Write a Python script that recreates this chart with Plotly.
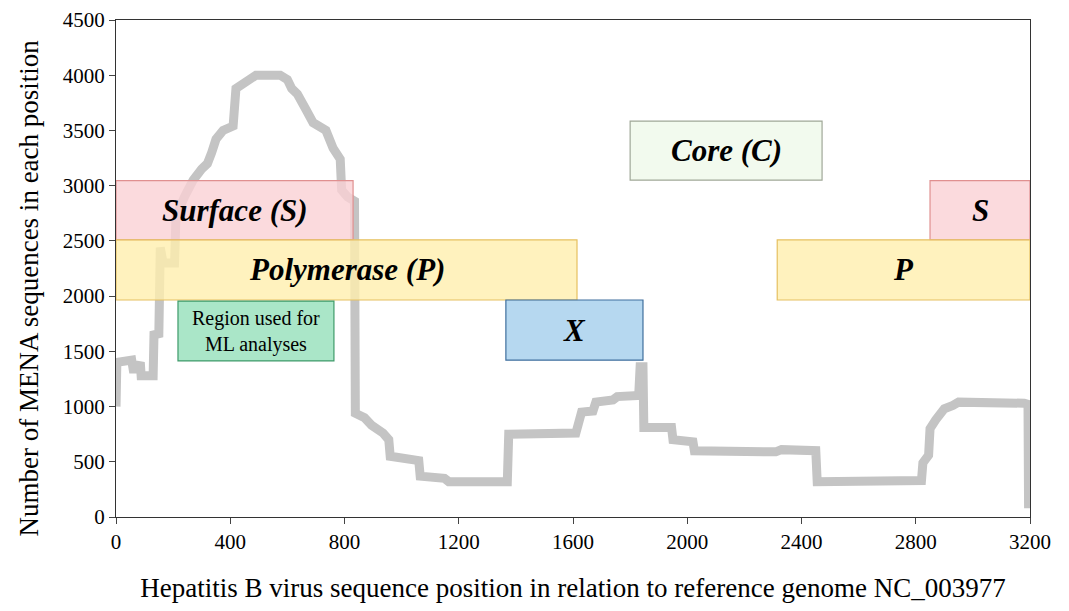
import plotly.graph_objects as go

# coverage of MENA sequences along the HBV genome
x_pos = [0, 3, 55, 60, 75, 80, 85, 88, 130, 133, 150, 155, 165, 205, 210, 240, 270, 300, 320, 335,
         350, 375, 410, 420, 440, 460, 490, 575, 600, 615, 635, 665, 690, 735, 760, 785, 790, 810,
         835, 838, 870, 895, 935, 955, 960, 1060, 1065, 1150, 1165, 1370, 1375, 1610, 1620, 1630,
         1670, 1680, 1740, 1755, 1830, 1835, 1845, 1848, 1945, 1950, 2020, 2025, 2310, 2330, 2450,
         2455, 2820, 2825, 2845, 2850, 2870, 2900, 2930, 2950, 3180, 3193, 3195]
counts = [1000, 1400, 1420, 1340, 1340, 1400, 1400, 1280, 1280, 1650, 1660, 2440, 2300, 2300, 2720,
          2900, 3050, 3150, 3200, 3300, 3420, 3500, 3540, 3880, 3920, 3950, 4000, 4000, 3960, 3880,
          3830, 3690, 3570, 3500, 3340, 3240, 2960, 2900, 2860, 940, 900, 830, 760, 700, 550, 510,
          370, 350, 320, 320, 750, 760, 880, 950, 960, 1040, 1060, 1090, 1100, 1360, 1360, 810, 810,
          700, 680, 600, 590, 610, 600, 320, 330, 490, 560, 800, 880, 980, 1010, 1040, 1030, 1020, 80]

# gene / region boxes: label, start, end, low, high
region_labels = ["Surface (S)", "S", "Polymerase (P)", "P", "Core (C)", "X", "Region used for<br>ML analyses"]
region_start = [0, 2850, 0, 2315, 1800, 1365, 217]
region_end = [830, 3200, 1614, 3200, 2472, 1845, 763]
region_low = [2510, 2510, 1965, 1965, 3050, 1420, 1413]
region_high = [3045, 3045, 2510, 2510, 3585, 1965, 1955]

fills = ["rgba(250,209,212,0.8)", "rgba(250,209,212,0.8)", "rgba(255,239,174,0.8)",
         "rgba(255,239,174,0.8)", "rgba(239,249,234,0.8)", "rgba(164,206,236,0.8)", "rgba(149,224,186,0.8)"]
borders = ["#e09090", "#e09090", "#e6c060", "#e6c060", "#a0a898", "#3f6f9e", "#3f9a6a"]

fig = go.Figure()
fig.add_trace(go.Scatter(
    x=x_pos, y=counts, mode="lines",
    line=dict(color="rgb(196,196,196)", width=9),
    hoverinfo="skip", showlegend=False,
))

shapes = []
annotations = []
for i, lab in enumerate(region_labels):
    shapes.append(dict(
        type="rect", xref="x", yref="y", layer="above", opacity=1,
        x0=region_start[i], x1=region_end[i], y0=region_low[i], y1=region_high[i],
        fillcolor=fills[i], line=dict(color=borders[i], width=1.2),
    ))
    is_ml = "ML" in lab
    annotations.append(dict(
        x=(region_start[i] + region_end[i]) / 2, y=(region_low[i] + region_high[i]) / 2,
        xref="x", yref="y", showarrow=False,
        text=lab if is_ml else "<b><i>" + lab + "</i></b>",
        font=dict(family="Liberation Serif", size=20 if is_ml else 31, color="black"),
    ))

# y title as an annotation so it can sit a little below the plot centre, like the original
annotations.append(dict(
    text="Number of MENA sequences in each position", textangle=-90,
    xref="paper", yref="paper", x=-0.095, y=0.46, xanchor="center", yanchor="middle",
    showarrow=False, font=dict(family="Liberation Serif", size=27, color="black"),
))

# the page body adds an 8px offset, so margins are shifted to compensate
fig.update_layout(
    width=1069, height=611,
    template="simple_white",
    paper_bgcolor="white", plot_bgcolor="white",
    margin=dict(l=108, r=47, t=12, b=102),
    font=dict(family="Liberation Serif", size=21, color="black"),
    shapes=shapes,
    annotations=annotations,
    xaxis=dict(
        range=[0, 3200], tickvals=list(range(0, 3201, 400)), ticks="outside", ticklen=6,
        showline=True, linecolor="#333", mirror=True, showgrid=False, zeroline=False,
        tickfont=dict(size=21), automargin=False,
        title=dict(text="Hepatitis B virus sequence position in relation to reference genome NC_003977",
                   font=dict(size=27), standoff=24),
    ),
    yaxis=dict(
        range=[0, 4500], tickvals=list(range(0, 4501, 500)), ticks="outside", ticklen=6,
        showline=True, linecolor="#333", mirror=True, showgrid=False, zeroline=False,
        tickfont=dict(size=21), automargin=False,
    ),
)

fig.write_html("out.html")
